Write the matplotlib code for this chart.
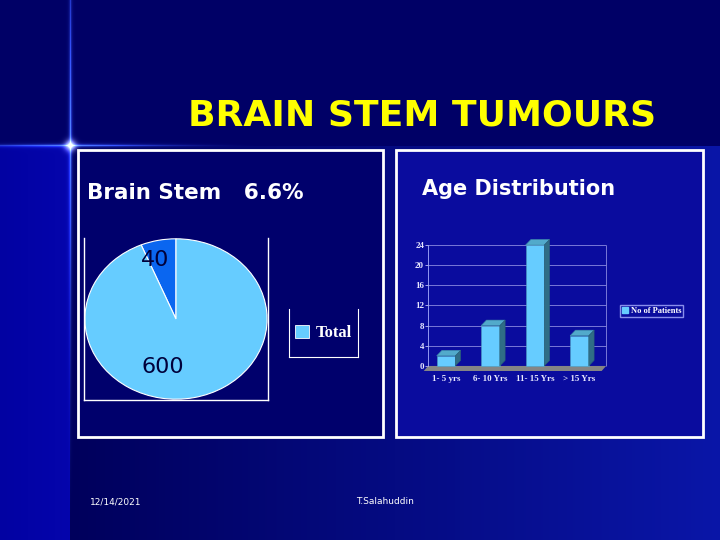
import numpy as np
import matplotlib
matplotlib.use("Agg")
import matplotlib.pyplot as plt
from matplotlib.patches import Rectangle, Polygon, Patch
from matplotlib.font_manager import FontProperties

# --- data ---
title = "BRAIN STEM TUMOURS"
pie_title = "Brain Stem   6.6%"
pie_values = [40, 600]
pie_colors = ["#0a66f0", "#66ccff"]
pie_series = "Total"

bar_title = "Age Distribution"
age_groups = ["1- 5 yrs", "6- 10 Yrs", "11- 15 Yrs", "> 15 Yrs"]
patients = [2, 8, 24, 6]
bar_series = "No of Patients"
y_ticks = [0, 4, 8, 12, 16, 20, 24]

footer_date = "12/14/2021"
footer_author = "T.Salahuddin"

W, H = 720, 540


def px(x0, y0, x1, y1):
    """pixel box (top-left origin) -> figure fraction rect"""
    return [x0 / W, 1 - y1 / H, (x1 - x0) / W, (y1 - y0) / H]


fig = plt.figure(figsize=(7.2, 5.4), dpi=100)

# --- slide background with the glowing cross ---
bg = fig.add_axes([0, 0, 1, 1], zorder=-10)
yy, xx = np.mgrid[0:H, 0:W].astype(float)
img = np.zeros((H, W, 3))
img[:] = np.array([0x00, 0x00, 0x66]) / 255
lower = yy >= 146
left_c = np.array([0x00, 0x00, 0x5c]) / 255
right_c = np.array([0x0a, 0x16, 0xa8]) / 255
t = ((xx - 70) / (W - 70))[lower][:, None]
img[lower] = left_c + (right_c - left_c) * t
strip = lower & (xx < 70)
img[strip] = np.array([0x02, 0x02, 0xa2]) / 255 + (xx[strip] / 70)[:, None] * np.array([0.01, 0.01, 0.04])

fade_v = np.clip(1 - np.abs(yy - 145) / 400, 0, 1) ** 2
fade_h = np.clip(1 - np.abs(xx - 70) / 200, 0, 1) ** 2
glow = np.exp(-np.abs(xx - 70) / 1.1) * fade_v + np.exp(-np.abs(yy - 145) / 1.1) * fade_h
img += glow[..., None] * np.array([0.35, 0.55, 1.0])
core = np.exp(-((xx - 70) ** 2 + (yy - 145) ** 2) / 30.0)
img += core[..., None] * 0.8
bg.imshow(np.clip(img, 0, 1), extent=[0, W, H, 0], aspect="auto")
bg.set_xlim(0, W)
bg.set_ylim(H, 0)
bg.axis("off")

# panels
bg.add_patch(Rectangle((78, 150), 305, 287, facecolor="#00006c", edgecolor="white", lw=2))
bg.add_patch(Rectangle((396, 150), 307, 287, facecolor="#0a0c9e", edgecolor="white", lw=2))

fig.text(422 / W, 1 - 116 / H, title, color="#ffff00", fontsize=26,
         fontweight="bold", ha="center", va="center", family="DejaVu Sans")
fig.text(87 / W, 1 - 193 / H, pie_title, color="white", fontsize=15.5,
         fontweight="bold", ha="left", va="center")
fig.text(519 / W, 1 - 189 / H, bar_title, color="white", fontsize=15,
         fontweight="bold", ha="center", va="center")
fig.text(90 / W, 1 - 502 / H, footer_date, color="white", fontsize=6.5, va="center")
fig.text(385 / W, 1 - 502 / H, footer_author, color="white", fontsize=6.5,
         ha="center", va="center")

# --- pie ---
ax1 = fig.add_axes(px(84, 238, 268, 400))
ax1.pie(pie_values, colors=pie_colors, startangle=90, counterclock=True,
        wedgeprops=dict(edgecolor="white", linewidth=0.8))
ax1.set_aspect("auto")
ax1.set_xlim(-1.01, 1.01)
ax1.set_ylim(-1.01, 1.01)
ax1.set_frame_on(True)
ax1.set_facecolor("none")
ax1.set_xticks([])
ax1.set_yticks([])
ax1.spines["top"].set_visible(False)
for s in ["left", "right", "bottom"]:
    ax1.spines[s].set_color("white")
    ax1.spines[s].set_linewidth(1)
label_pos = [(-0.23, 0.73), (-0.14, -0.60)]
for v, (lx, ly) in zip(pie_values, label_pos):
    ax1.text(lx, ly, str(v), color="#00003a", fontsize=16, ha="center", va="center")

# legend box of the pie (open top)
axl = fig.add_axes(px(289, 309, 358, 357))
axl.set_facecolor("none")
axl.set_xticks([])
axl.set_yticks([])
axl.spines["top"].set_visible(False)
for s in ["left", "right", "bottom"]:
    axl.spines[s].set_color("white")
axl.legend(handles=[Patch(facecolor=pie_colors[1], edgecolor="white", lw=0.6, label=pie_series)],
           loc="center", frameon=False, labelcolor="white", handlelength=0.8,
           handleheight=0.8, handletextpad=0.4,
           prop=dict(family="Liberation Serif", weight="bold", size=12))

# --- 3D-look column chart ---
ax2 = fig.add_axes(px(421.5, 245, 607, 372))
ax2.set_facecolor("none")
ax2.set_xlim(-0.55, 3.62)
ax2.set_ylim(-1.2, 24)
x = np.arange(len(patients))
bw, dx, dy = 0.42, 0.12, 1.1

ax2.hlines(y_ticks[1:], -0.4, 3.6, color="#8a8ae0", lw=0.6, zorder=1)
ax2.vlines([3.6], 0, 24, color="#8a8ae0", lw=0.6, zorder=1)
ax2.add_patch(Polygon([(-0.5, -1.0), (3.5, -1.0), (3.6, 0), (-0.4, 0)],
                      closed=True, facecolor="#858585", edgecolor="none", zorder=2))

ax2.bar(x, patients, width=bw, color="#66ccff", edgecolor="#4d9cc0", lw=0.4, zorder=3)
for xi, v in zip(x, patients):
    x0, x1 = xi - bw / 2, xi + bw / 2
    ax2.add_patch(Polygon([(x0, v), (x0 + dx, v + dy), (x1 + dx, v + dy), (x1, v)],
                          closed=True, facecolor="#52aacb", edgecolor="#3d8aa8", lw=0.4,
                          zorder=3, clip_on=False))
    ax2.add_patch(Polygon([(x1, 0), (x1 + dx, dy), (x1 + dx, v + dy), (x1, v)],
                          closed=True, facecolor="#2f6d86", edgecolor="#2a5f75", lw=0.4,
                          zorder=3, clip_on=False))

for s in ["top", "right", "bottom"]:
    ax2.spines[s].set_visible(False)
ax2.spines["left"].set_position(("data", -0.4))
ax2.spines["left"].set_bounds(0, 24)
ax2.spines["left"].set_color("#aab0ff")
ax2.spines["left"].set_linewidth(0.6)
ax2.set_yticks(y_ticks)
ax2.set_xticks(x, age_groups)
tick_font = dict(family="Liberation Serif", weight="bold", size=6.5)
for lab in ax2.get_yticklabels() + ax2.get_xticklabels():
    lab.set_fontproperties(FontProperties(**tick_font))
ax2.tick_params(axis="y", colors="#e8e8ff", length=2, width=0.5, pad=1)
ax2.tick_params(axis="x", colors="#e8e8ff", length=0, pad=2)

ax2.legend(handles=[Patch(facecolor="#66ccff", edgecolor="#66ccff", label=bar_series)],
           loc="center", bbox_to_anchor=(651.5 / W, 1 - 311 / H), bbox_transform=fig.transFigure,
           frameon=True, fancybox=False, facecolor="none", edgecolor="#aab0ff",
           labelcolor="white", handlelength=0.8, handleheight=0.8, handletextpad=0.3,
           borderpad=0.25, prop=dict(family="Liberation Serif", weight="bold", size=6))

fig.savefig("out.png", dpi=100)
